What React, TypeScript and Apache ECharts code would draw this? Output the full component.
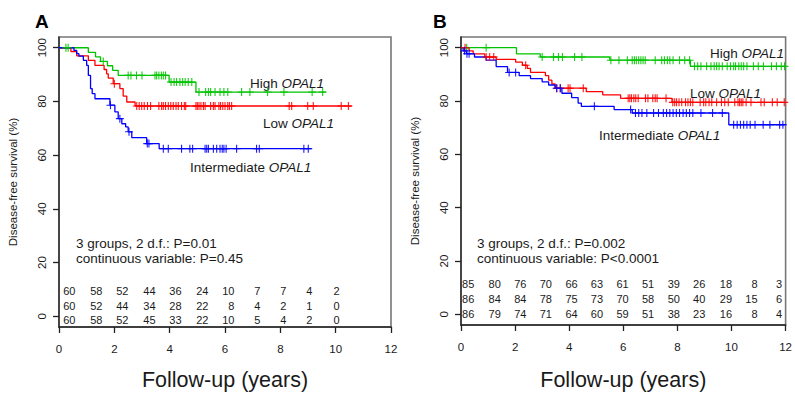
import React, { useEffect, useRef } from 'react';
import * as echarts from 'echarts';

type Pt = [number, number];

const FONT = '"Liberation Sans", Arial, Helvetica, sans-serif';
const GREEN = '#00c400';
const RED = '#ff0000';
const BLUE = '#0000ff';
const TXT = '#1a1a1a';

const yTickValues = [0, 20, 40, 60, 80, 100];

// ---------- Panel A: step curves (time in years, survival %) ----------
const aHighSteps: Pt[] = [[0, 100], [1.06, 98.3], [1.32, 96.6], [1.5, 94.9], [1.75, 93.3], [1.94, 91.6], [2.14, 89.7], [3.98, 87.2], [4.95, 83.5], [9.65, 83.5]];
const aHighCens = [0.25, 0.33, 1.6, 2.5, 2.6, 2.8, 3.0, 3.47, 3.53, 3.61, 3.7, 3.77, 3.85, 4.05, 4.16, 4.25, 4.37, 4.47, 4.56, 4.67, 4.8, 5.06, 5.3, 5.4, 5.48, 5.64, 5.82, 5.96, 6.1, 6.6, 6.9, 7.54, 8.13, 9.15, 9.53];
const aLowSteps: Pt[] = [[0, 100], [0.43, 98.6], [0.64, 97.0], [1.06, 95.3], [1.3, 93.4], [1.63, 91.9], [1.72, 90.3], [1.78, 88.7], [1.96, 86.6], [2.2, 84.8], [2.32, 82.0], [2.45, 79.8], [2.75, 78.3], [10.58, 78.3]];
const aLowCens = [2.0, 2.81, 2.9, 2.99, 3.08, 3.2, 3.31, 3.61, 3.71, 3.77, 3.85, 3.95, 4.04, 4.13, 4.23, 4.31, 4.43, 4.53, 4.58, 4.95, 5.0, 5.06, 5.13, 5.22, 5.28, 5.48, 5.58, 5.64, 5.78, 5.84, 5.92, 6.0, 6.1, 6.16, 6.24, 8.32, 8.41, 8.99, 9.19, 10.2, 10.46];
const aIntSteps: Pt[] = [[0, 100], [0.54, 99.0], [0.64, 97.8], [0.72, 96.9], [0.88, 95.3], [1.0, 93.4], [1.06, 89.7], [1.14, 84.8], [1.2, 82.9], [1.3, 81.0], [1.84, 78.6], [2.02, 76.1], [2.14, 73.6], [2.27, 71.7], [2.41, 70.5], [2.5, 68.7], [2.63, 66.5], [3.17, 64.3], [3.62, 62.4], [9.13, 62.4]];
const aIntCens = [1.86, 2.2, 2.53, 3.19, 3.25, 3.77, 3.95, 4.43, 4.73, 4.83, 5.28, 5.34, 5.4, 5.58, 5.7, 5.82, 5.9, 5.96, 6.04, 6.42, 7.14, 7.24, 8.85, 9.01];

// ---------- Panel B ----------
const bHighSteps: Pt[] = [[0, 100], [2.05, 97.7], [2.93, 96.5], [5.5, 95.3], [8.48, 93.0], [12, 93.0]];
const bHighCens = [0.21, 0.93, 3.0, 3.42, 3.6, 3.75, 4.2, 4.47, 5.54, 5.84, 6.15, 6.33, 6.41, 6.48, 6.57, 6.65, 6.73, 6.81, 7.18, 7.42, 7.52, 7.63, 7.72, 7.84, 8.08, 8.27, 8.45, 8.63, 8.75, 8.87, 9.08, 9.24, 9.36, 9.45, 9.54, 9.66, 9.84, 9.96, 10.08, 10.15, 10.27, 10.36, 10.45, 10.57, 10.81, 10.99, 11.18, 11.48, 11.66, 11.84, 11.96];
const bLowSteps: Pt[] = [[0, 100], [0.3, 98.8], [0.45, 97.7], [0.88, 96.5], [1.3, 95.6], [2.02, 94.6], [2.27, 93.4], [2.45, 92.2], [2.57, 90.7], [3.12, 89.5], [3.24, 87.8], [3.36, 86.4], [3.48, 84.8], [4.63, 83.5], [5.24, 82.3], [5.9, 81.0], [7.8, 79.5], [12, 79.5]];
const bLowCens = [0.15, 0.93, 1.06, 1.21, 2.39, 3.54, 3.67, 3.96, 4.03, 4.52, 6.18, 6.24, 6.3, 6.39, 6.46, 6.55, 6.82, 6.91, 7.09, 7.18, 7.25, 7.58, 7.83, 7.9, 7.97, 8.06, 8.16, 8.3, 8.39, 8.48, 8.57, 8.84, 8.97, 9.05, 9.17, 9.27, 9.45, 9.63, 9.75, 9.88, 10.12, 10.24, 10.3, 10.36, 10.42, 10.54, 10.72, 11.09, 11.21, 11.51, 11.69, 11.95];
const bIntSteps: Pt[] = [[0, 100], [0.08, 98.8], [0.2, 97.7], [0.5, 96.5], [0.93, 95.3], [1.3, 92.9], [1.72, 90.7], [2.15, 89.5], [2.57, 88.4], [3.0, 87.2], [3.24, 86.0], [3.48, 84.8], [3.73, 82.9], [4.09, 81.3], [4.33, 79.2], [4.45, 78.0], [5.66, 76.8], [6.33, 75.5], [9.9, 71.1], [12, 71.1]];
const bIntCens = [0.13, 0.22, 0.3, 1.78, 2.02, 3.54, 3.67, 4.93, 6.27, 6.45, 6.57, 6.69, 6.87, 7.12, 7.3, 7.48, 7.6, 7.72, 7.84, 7.96, 8.08, 8.21, 8.33, 8.45, 8.57, 8.87, 9.3, 9.66, 10.08, 10.21, 10.33, 10.45, 10.57, 10.69, 10.87, 11.17, 11.42, 11.78, 11.9];

// ---------- Numbers at risk ----------
const aRiskX = [0.61, 1.59, 2.53, 3.51, 4.45, 5.42, 6.36, 7.3, 8.24, 9.18, 10.16];
const aRiskRowY = [9.3, 3.8, -1.4];
const aRisk1 = [60, 58, 52, 44, 36, 24, 10, 7, 7, 4, 2];
const aRisk2 = [60, 52, 44, 34, 28, 22, 8, 4, 2, 1, 0];
const aRisk3 = [60, 58, 52, 45, 33, 22, 10, 5, 4, 2, 0];

const bRiskX = [0.51, 1.49, 2.44, 3.38, 4.33, 5.27, 6.22, 7.16, 8.11, 9.05, 10.04, 10.98, 11.89];
const bRiskRowY = [11.2, 5.6, 0];
const bRisk1 = [85, 80, 76, 70, 66, 63, 61, 51, 39, 26, 18, 8, 3];
const bRisk2 = [86, 84, 84, 78, 75, 73, 70, 58, 50, 40, 29, 15, 6];
const bRisk3 = [86, 79, 74, 71, 64, 60, 59, 51, 38, 23, 16, 8, 4];

function survAt(steps: Pt[], t: number): number {
  let v = steps[0][1];
  for (const [x, y] of steps) {
    if (x <= t) v = y;
  }
  return v;
}

const PLUS = 'path://M5,0L5,10M0,5L10,5';

function curveSeries(idx: number, steps: Pt[], cens: number[], color: string) {
  return [
    {
      type: 'line',
      xAxisIndex: idx,
      yAxisIndex: idx,
      data: steps,
      step: 'end',
      showSymbol: false,
      symbol: 'none',
      lineStyle: { color, width: 1.3 },
      silent: true,
      z: 3,
    },
    {
      type: 'scatter',
      xAxisIndex: idx,
      yAxisIndex: idx,
      data: cens.map((t) => [t, survAt(steps, t)]),
      symbol: PLUS,
      symbolSize: 8,
      itemStyle: { color: 'none', borderColor: color, borderWidth: 1.1, opacity: 0.9 },
      silent: true,
      z: 4,
    },
  ];
}

function riskSeries(idx: number, xs: number[], y: number, counts: number[]) {
  return {
    type: 'scatter',
    xAxisIndex: idx,
    yAxisIndex: idx,
    data: xs.map((x, i) => [x, y, counts[i]]),
    symbolSize: 1,
    itemStyle: { color: 'rgba(0,0,0,0)', opacity: 1 },
    silent: true,
    label: {
      show: true,
      position: 'left',
      distance: 0,
      formatter: (p: any) => String(p.value[2]),
      fontFamily: FONT,
      fontSize: 11,
      color: TXT,
    },
  };
}

function xAxisCfg(idx: number, gap: number) {
  return {
    type: 'value',
    gridIndex: idx,
    min: 0,
    max: 12,
    interval: 2,
    name: 'Follow-up (years)',
    nameLocation: 'middle',
    nameGap: gap,
    nameTextStyle: { fontFamily: FONT, fontSize: 21.5, color: TXT },
    axisLine: { show: true, onZero: false, lineStyle: { color: '#222', width: 1.6 } },
    axisTick: { show: true, length: 6, lineStyle: { color: '#222', width: 1.3 } },
    axisLabel: { fontFamily: FONT, fontSize: 11.5, color: TXT, margin: 16 },
    splitLine: { show: false },
  };
}

function yAxisCfg(idx: number) {
  return {
    type: 'value',
    gridIndex: idx,
    min: -4,
    max: 104,
    name: 'Disease-free survival (%)',
    nameLocation: 'middle',
    nameGap: 40,
    nameTextStyle: { fontFamily: FONT, fontSize: 11.5, color: TXT },
    axisLine: { show: true, onZero: false, lineStyle: { color: '#333', width: 1.6 } },
    axisTick: { show: true, length: 6, customValues: yTickValues, lineStyle: { color: '#222', width: 1.3 } },
    axisLabel: { fontFamily: FONT, fontSize: 11.5, color: TXT, rotate: 90, margin: 11, customValues: yTickValues },
    splitLine: { show: false },
  };
}

function plainText(x: number, y: number, text: string, size = 13.5) {
  return {
    type: 'text',
    x,
    y,
    style: { text, fontFamily: FONT, fontSize: size, fill: TXT, textAlign: 'left', verticalAlign: 'middle' },
    silent: true,
  };
}

function geneLabel(x: number, y: number, prefix: string) {
  return {
    type: 'text',
    x,
    y,
    style: {
      text: `{a|${prefix} }{b|OPAL1}`,
      textAlign: 'left',
      verticalAlign: 'middle',
      rich: {
        a: { fontFamily: FONT, fontSize: 13.5, fill: TXT, color: TXT },
        b: { fontFamily: FONT, fontSize: 13.5, fontStyle: 'italic', fill: TXT, color: TXT },
      },
    },
    silent: true,
  };
}

export default function App() {
  const ref = useRef<HTMLDivElement>(null);

  useEffect(() => {
    if (!ref.current) return;
    const chart = echarts.init(ref.current, null, { renderer: 'svg' });

    const option: any = {
      animation: false,
      backgroundColor: '#ffffff',
      grid: [
        { left: 59, top: 37, width: 332, height: 292, show: true, borderColor: '#777', borderWidth: 1.6, backgroundColor: 'transparent' },
        { left: 461, top: 37, width: 330, height: 292, show: true, borderColor: '#777', borderWidth: 1.6, backgroundColor: 'transparent' },
      ],
      xAxis: [xAxisCfg(0, 42), xAxisCfg(1, 44)],
      yAxis: [yAxisCfg(0), yAxisCfg(1)],
      series: [
        ...curveSeries(0, aHighSteps, aHighCens, GREEN),
        ...curveSeries(0, aLowSteps, aLowCens, RED),
        ...curveSeries(0, aIntSteps, aIntCens, BLUE),
        ...curveSeries(1, bHighSteps, bHighCens, GREEN),
        ...curveSeries(1, bLowSteps, bLowCens, RED),
        ...curveSeries(1, bIntSteps, bIntCens, BLUE),
        riskSeries(0, aRiskX, aRiskRowY[0], aRisk1),
        riskSeries(0, aRiskX, aRiskRowY[1], aRisk2),
        riskSeries(0, aRiskX, aRiskRowY[2], aRisk3),
        riskSeries(1, bRiskX, bRiskRowY[0], bRisk1),
        riskSeries(1, bRiskX, bRiskRowY[1], bRisk2),
        riskSeries(1, bRiskX, bRiskRowY[2], bRisk3),
      ],
      graphic: [
        { type: 'text', x: 35, y: 21, style: { text: 'A', fontFamily: FONT, fontSize: 19, fontWeight: 'bold', fill: '#000', verticalAlign: 'middle' }, silent: true },
        { type: 'text', x: 433, y: 21, style: { text: 'B', fontFamily: FONT, fontSize: 19, fontWeight: 'bold', fill: '#000', verticalAlign: 'middle' }, silent: true },
        geneLabel(250, 83, 'High'),
        geneLabel(263, 123, 'Low'),
        geneLabel(190, 167, 'Intermediate'),
        geneLabel(710, 53, 'High'),
        geneLabel(690, 93, 'Low'),
        geneLabel(599, 135, 'Intermediate'),
        plainText(76, 243, '3 groups, 2 d.f.: P=0.01'),
        plainText(76, 258, 'continuous variable: P=0.45'),
        plainText(477, 243, '3 groups, 2 d.f.: P=0.002'),
        plainText(477, 258, 'continuous variable: P<0.0001'),
      ],
    };

    chart.setOption(option);
    return () => chart.dispose();
  }, []);

  return (
    <div
      ref={ref}
      style={{ position: 'fixed', left: 0, top: 0, width: 795, height: 396, background: '#fff' }}
    />
  );
}
